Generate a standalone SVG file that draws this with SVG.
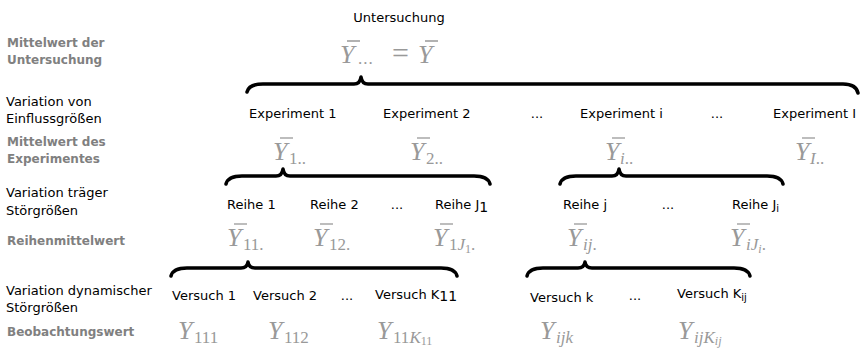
<svg xmlns="http://www.w3.org/2000/svg" width="860" height="349" viewBox="0 0 860 349">
<style>
.bg{fill:#fff}
.lab{font-family:"DejaVu Sans",Verdana,sans-serif;font-size:13px;fill:#000}
.side{font-family:"DejaVu Sans",Verdana,sans-serif;font-size:13px;fill:#000}
.sideb{font-family:"DejaVu Sans",Verdana,sans-serif;font-size:12px;font-weight:bold;fill:#808080}
.m{font-family:"Liberation Serif","Times New Roman",serif;font-style:italic;font-size:26px;fill:#999}
.s{font-size:17px}
.ss{font-size:12px}
.r{font-style:normal}
.bar{stroke:#999;stroke-width:1.3;fill:none}
.brace{stroke:#000;stroke-width:3.5;fill:none;stroke-linecap:round;stroke-linejoin:round}
</style>
<rect class="bg" x="0" y="0" width="860" height="349"/>

<g id="side-labels">
<text class="sideb" x="7" y="47">Mittelwert der</text>
<text class="sideb" x="7" y="64">Untersuchung</text>
<text class="side" x="6" y="106">Variation von</text>
<text class="side" x="6" y="123">Einflussgrößen</text>
<text class="sideb" x="7" y="146">Mittelwert des</text>
<text class="sideb" x="7" y="163">Experimentes</text>
<text class="side" x="6" y="197">Variation träger</text>
<text class="side" x="6" y="215">Störgrößen</text>
<text class="sideb" x="7" y="245">Reihenmittelwert</text>
<text class="side" x="6" y="295">Variation dynamischer</text>
<text class="side" x="6" y="312">Störgrößen</text>
<text class="sideb" x="7" y="336">Beobachtungswert</text>
</g>

<g id="untersuchung">
<text class="lab" x="399" y="22" text-anchor="middle">Untersuchung</text>
<text class="m" x="340" y="63">Y<tspan class="s r" x="358" dy="1" letter-spacing="1">...</tspan><tspan class="r" x="392" dy="-1" font-size="30">=</tspan><tspan x="418">Y</tspan></text>
<path class="bar" d="M347 41H360M425 41H438"/>
</g>

<g id="exp1">
<text class="lab" x="249" y="118">Experiment 1</text>
<text class="m" x="273" y="160">Y<tspan class="s r" x="289" dy="4">1..</tspan></text>
<path class="bar" d="M280 138H293"/>
</g>
<g id="exp2">
<text class="lab" x="383" y="118">Experiment 2</text>
<text class="m" x="410" y="160">Y<tspan class="s r" x="426" dy="4">2..</tspan></text>
<path class="bar" d="M417 138H430"/>
</g>
<g id="exp-dots1"><text class="lab" x="537" y="118" text-anchor="middle">...</text></g>
<g id="expi">
<text class="lab" x="580" y="118">Experiment i</text>
<text class="m" x="605" y="160">Y<tspan class="s" x="620" dy="4">i</tspan><tspan class="s r">..</tspan></text>
<path class="bar" d="M612 138H625"/>
</g>
<g id="exp-dots2"><text class="lab" x="717" y="118" text-anchor="middle">...</text></g>
<g id="expI">
<text class="lab" x="773" y="118">Experiment I</text>
<text class="m" x="795" y="160">Y<tspan class="s" x="810" dy="4">I</tspan><tspan class="s r">..</tspan></text>
<path class="bar" d="M802 138H815"/>
</g>

<g id="reihe11">
<text class="lab" x="227" y="209">Reihe 1</text>
<text class="m" x="227" y="246">Y<tspan class="s r" x="243" dy="4">11.</tspan></text>
<path class="bar" d="M234 224H247"/>
</g>
<g id="reihe12">
<text class="lab" x="310" y="209">Reihe 2</text>
<text class="m" x="313" y="246">Y<tspan class="s r" x="329" dy="4">12.</tspan></text>
<path class="bar" d="M320 224H333"/>
</g>
<g id="reihe-dots1"><text class="lab" x="397" y="209" text-anchor="middle">...</text></g>
<g id="reihe1J1">
<text class="lab" x="435" y="209">Reihe J<tspan font-size="14" dy="3">1</tspan></text>
<text class="m" x="433" y="246">Y<tspan class="s r" x="449" dy="4">1</tspan><tspan class="s">J</tspan><tspan class="ss r" dy="3">1</tspan><tspan class="s r" dy="-3">.</tspan></text>
<path class="bar" d="M440 224H453"/>
</g>
<g id="reiheij">
<text class="lab" x="563" y="209">Reihe j</text>
<text class="m" x="567" y="246">Y<tspan class="s" x="583" dy="4">ij</tspan><tspan class="s r">.</tspan></text>
<path class="bar" d="M574 224H587"/>
</g>
<g id="reihe-dots2"><text class="lab" x="668" y="209" text-anchor="middle">...</text></g>
<g id="reiheiJi">
<text class="lab" x="732" y="209">Reihe J<tspan font-size="10" dy="3">i</tspan></text>
<text class="m" x="730" y="246">Y<tspan class="s" x="746" dy="4">iJ</tspan><tspan class="ss" dy="3">i</tspan><tspan class="s r" dy="-3">.</tspan></text>
<path class="bar" d="M737 224H750"/>
</g>

<g id="versuch111">
<text class="lab" x="172" y="300">Versuch 1</text>
<text class="m" x="178" y="339">Y<tspan class="s r" x="194" dy="4">111</tspan></text>
</g>
<g id="versuch112">
<text class="lab" x="253" y="300">Versuch 2</text>
<text class="m" x="268" y="339">Y<tspan class="s r" x="284" dy="4">112</tspan></text>
</g>
<g id="versuch-dots1"><text class="lab" x="347" y="300" text-anchor="middle">...</text></g>
<g id="versuch11K11">
<text class="lab" x="375" y="299">Versuch K<tspan font-size="14" dy="2">11</tspan></text>
<text class="m" x="377" y="339">Y<tspan class="s r" x="393" dy="4">11</tspan><tspan class="s">K</tspan><tspan class="ss r" dy="2">11</tspan></text>
</g>
<g id="versuchijk">
<text class="lab" x="530" y="302">Versuch k</text>
<text class="m" x="540" y="339">Y<tspan class="s" x="556" dy="4">ijk</tspan></text>
</g>
<g id="versuch-dots2"><text class="lab" x="635" y="300" text-anchor="middle">...</text></g>
<g id="versuchijKij">
<text class="lab" x="677" y="298">Versuch K<tspan font-size="10" dy="3">ij</tspan></text>
<text class="m" x="678" y="339">Y<tspan class="s" x="694" dy="4">ijK</tspan><tspan class="ss" dy="2">ij</tspan></text>
</g>

<g id="connectors">
<path class="brace" d="M247 92Q249 84 263 84L354 84Q360 84 361 77Q362 84 368 84L843 84Q856 84 858 93"/>
<path class="brace" d="M226 184Q228 176 242 176L276 176Q282 176 283 169Q284 176 290 176L474 176Q488 176 490 184"/>
<path class="brace" d="M560 184Q562 176 576 176L612 176Q618 176 619 169Q620 176 626 176L767 176Q781 176 783 184"/>
<path class="brace" d="M171 276Q173 268 187 268L241 268Q247 268 248 262Q249 268 255 268L441 268Q455 268 457 276"/>
<path class="brace" d="M527 276Q529 268 543 268L578 268Q584 268 585 262Q586 268 592 268L734 268Q748 268 750 276"/>
</g>
</svg>
